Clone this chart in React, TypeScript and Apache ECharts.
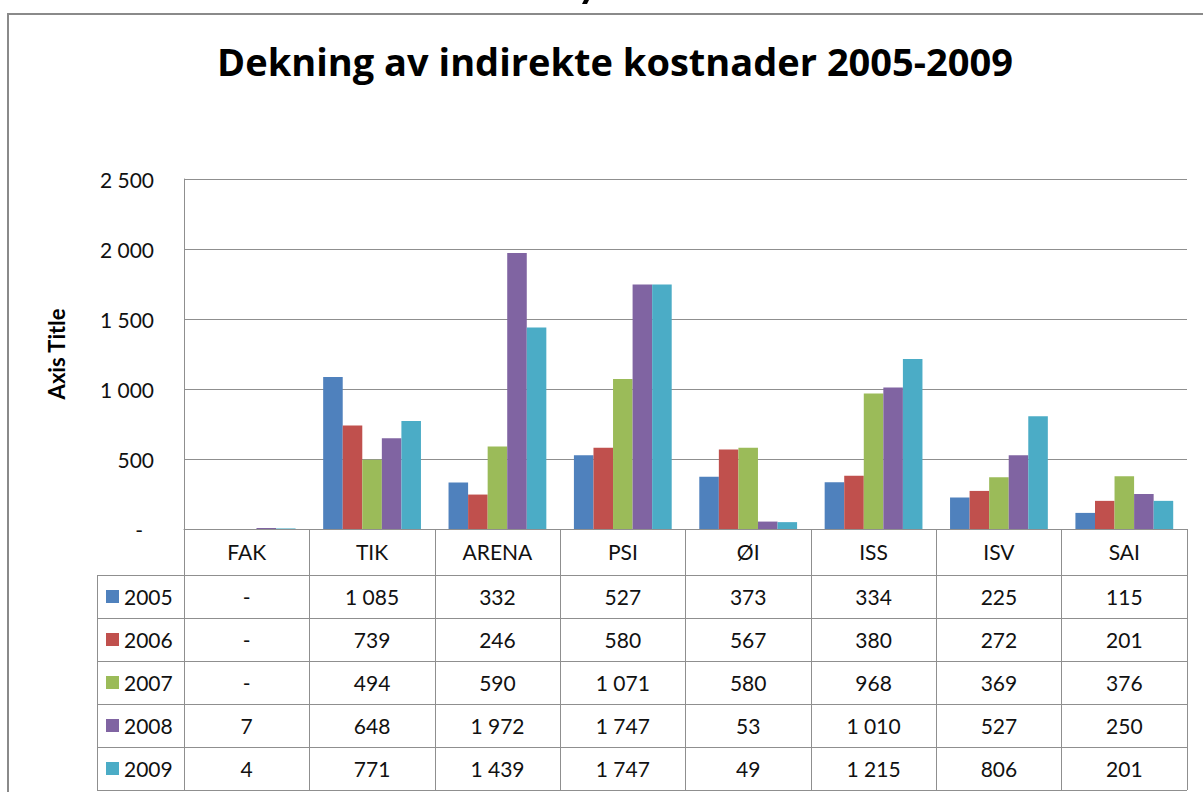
import React, { useEffect, useRef } from "react";
import * as echarts from "echarts";

const titleText = "Dekning av indirekte kostnader 2005-2009";
const yAxisTitle = "Axis Title";
const categories = ["FAK", "TIK", "ARENA", "PSI", "ØI", "ISS", "ISV", "SAI"];
const years = ["2005", "2006", "2007", "2008", "2009"];
const v2005 = [0, 1085, 332, 527, 373, 334, 225, 115];
const v2006 = [0, 739, 246, 580, 567, 380, 272, 201];
const v2007 = [0, 494, 590, 1071, 580, 968, 369, 376];
const v2008 = [7, 648, 1972, 1747, 53, 1010, 527, 250];
const v2009 = [4, 771, 1439, 1747, 49, 1215, 806, 201];
const seriesValues = [v2005, v2006, v2007, v2008, v2009];
const colors = ["#4F81BD", "#C0504D", "#9BBB59", "#8064A2", "#4BACC6"];
const yMin = 0;
const yMax = 2500;
const yInterval = 500;

const FONT = "Lato, 'Open Sans', sans-serif";
const TITLE_FONT = "'Open Sans', Lato, sans-serif";
const GRID_COLOR = "#8f8f8f";
const TEXT_COLOR = "#111";

function fmt(v: number): string {
  if (v === 0) return "-";
  return String(v).replace(/\B(?=(\d{3})+(?!\d))/g, " ");
}

export default function App() {
  const ref = useRef<HTMLDivElement>(null);
  useEffect(() => {
    if (!ref.current) return;
    const chart = echarts.init(ref.current, null, { renderer: "svg" });
    const gridLeft = 184;
    const gridRight = 16;
    const gridTop = 179;
    const gridBottom = 263;
    const headerH = 46;
    const rowH = 43;
    const tableH = headerH + rowH * years.length;

    chart.setOption({
      animation: false,
      backgroundColor: "#ffffff",
      title: {
        text: titleText,
        left: 610,
        top: 37,
        textAlign: "center",
        textStyle: { fontFamily: TITLE_FONT, fontWeight: "bold", fontSize: 38, color: "#000" },
      },
      grid: { left: gridLeft, right: gridRight, top: gridTop, bottom: gridBottom, containLabel: false },
      xAxis: {
        type: "category",
        data: categories,
        axisLine: { show: true, lineStyle: { color: GRID_COLOR, width: 1 } },
        axisTick: { show: true, length: tableH, lineStyle: { color: GRID_COLOR, width: 1 } },
        axisLabel: { margin: 12, fontFamily: FONT, fontSize: 21, color: TEXT_COLOR },
        splitLine: { show: false },
      },
      yAxis: {
        type: "value",
        min: yMin,
        max: yMax,
        interval: yInterval,
        name: yAxisTitle,
        nameLocation: "middle",
        nameGap: 117,
        nameRotate: 90,
        nameTextStyle: { fontFamily: FONT, fontWeight: "bold", fontSize: 22, color: "#000" },
        axisLine: { show: true, lineStyle: { color: GRID_COLOR, width: 1 } },
        axisTick: { show: false },
        axisLabel: {
          margin: 30,
          fontFamily: FONT,
          fontSize: 21,
          color: TEXT_COLOR,
          formatter: (v: number) => (v === 0 ? "{d|-}" : fmt(v)),
          rich: { d: { fontFamily: FONT, fontSize: 21, color: TEXT_COLOR, padding: [0, 11, 0, 0] } },
        },
        splitLine: { show: true, lineStyle: { color: GRID_COLOR, width: 1 } },
      },
      series: years.map((y, i) => ({
        name: y,
        type: "bar",
        data: seriesValues[i],
        itemStyle: { color: colors[i] },
        barGap: "0%",
        barCategoryGap: "22%",
      })),
    });

    const xs = categories.map((c) => chart.convertToPixel({ xAxisIndex: 0 }, c) as number);
    const y0 = chart.convertToPixel({ yAxisIndex: 0 }, 0) as number;
    const plotRight = 1203 - gridRight;
    const legendLeft = 97;
    const rowTop = y0 + headerH;

    const elements: any[] = [];
    elements.push({
      type: "rect",
      shape: { x: 8, y: 14, width: 1260, height: 820 },
      style: { fill: "none", stroke: "#8a8a8a", lineWidth: 2 },
      silent: true,
    });
    elements.push({
      type: "polygon",
      shape: { points: [[584, 0], [589, 0], [587, 4], [582, 4]] },
      style: { fill: "#000" },
      silent: true,
    });
    for (let r = 0; r <= years.length; r++) {
      const y = Math.round(rowTop + r * rowH) + 0.5;
      elements.push({
        type: "line",
        shape: { x1: legendLeft, y1: y, x2: plotRight, y2: y },
        style: { stroke: GRID_COLOR, lineWidth: 1 },
        silent: true,
      });
    }
    elements.push({
      type: "line",
      shape: { x1: legendLeft + 0.5, y1: rowTop, x2: legendLeft + 0.5, y2: rowTop + rowH * years.length },
      style: { stroke: GRID_COLOR, lineWidth: 1 },
      silent: true,
    });
    years.forEach((yr, r) => {
      const cy = rowTop + r * rowH + rowH / 2;
      elements.push({
        type: "rect",
        shape: { x: 106, y: cy - 6.5, width: 13, height: 13 },
        style: { fill: colors[r] },
        silent: true,
      });
      elements.push({
        type: "text",
        x: 124,
        y: cy,
        style: {
          text: yr,
          fontFamily: FONT,
          fontSize: 21,
          fill: TEXT_COLOR,
          textAlign: "left",
          textVerticalAlign: "middle",
        },
        silent: true,
      });
      seriesValues[r].forEach((v, c) => {
        elements.push({
          type: "text",
          x: xs[c],
          y: cy,
          style: {
            text: fmt(v),
            fontFamily: FONT,
            fontSize: 21,
            fill: TEXT_COLOR,
            textAlign: "center",
            textVerticalAlign: "middle",
          },
          silent: true,
        });
      });
    });

    chart.setOption({ graphic: elements });
    return () => chart.dispose();
  }, []);

  return (
    <div
      ref={ref}
      style={{ position: "fixed", left: 0, top: 0, width: 1203, height: 792, background: "#fff" }}
    />
  );
}
